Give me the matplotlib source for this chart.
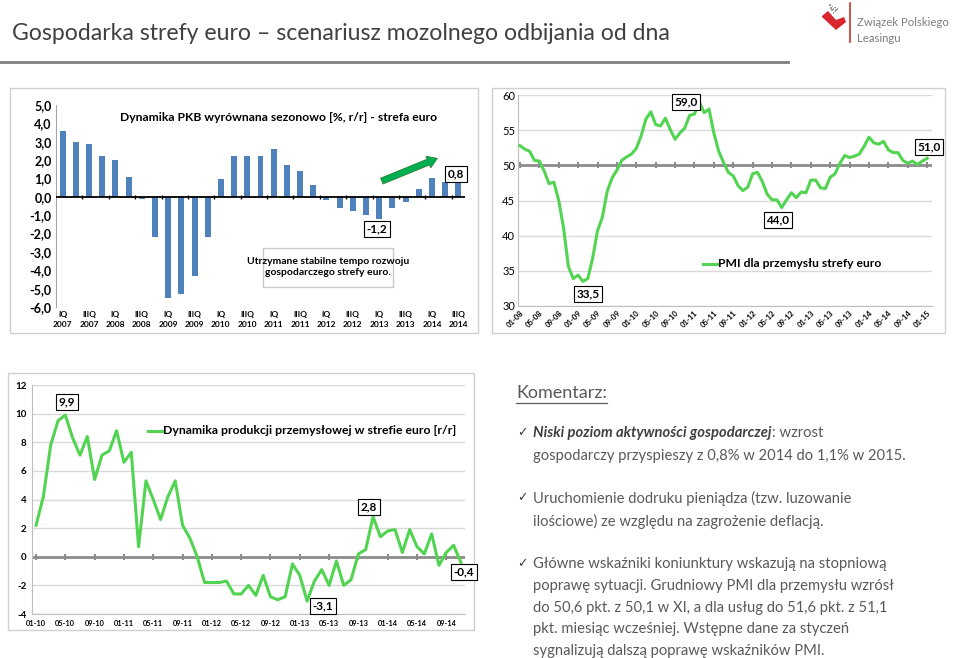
import matplotlib
matplotlib.use("Agg")
import matplotlib.pyplot as plt
import matplotlib.patches as mpatches
from matplotlib.lines import Line2D
import numpy as np

# =========================
# DATA
# =========================
gdp_labels = ["IQ\n2007", "IIIQ\n2007", "IQ\n2008", "IIIQ\n2008", "IQ\n2009", "IIIQ\n2009",
              "IQ\n2010", "IIIQ\n2010", "IQ\n2011", "IIIQ\n2011", "IQ\n2012", "IIIQ\n2012",
              "IQ\n2013", "IIIQ\n2013", "IQ\n2014", "IIIQ\n2014"]
gdp_values = [3.6, 3.0, 2.9, 2.2, 2.0, 1.1, -0.1, -2.2, -5.5, -5.3, -4.3, -2.2,
              0.95, 2.2, 2.2, 2.25, 2.6, 1.75, 1.4, 0.65, -0.2, -0.6, -0.75, -1.0,
              -1.2, -0.6, -0.3, 0.4, 1.0, 0.8, 0.8]

pmi_values = [52.8, 52.3, 52.0, 50.7, 50.6, 49.2, 47.4, 47.6, 45.0, 41.1, 35.6, 33.9,
              34.4, 33.5, 33.9, 36.8, 40.7, 42.6, 46.3, 48.2, 49.3, 50.7, 51.2, 51.6,
              52.4, 54.2, 56.6, 57.6, 55.8, 55.6, 56.7, 55.1, 53.7, 54.6, 55.3, 57.1,
              57.3, 59.0, 57.5, 58.0, 54.6, 52.0, 50.4, 49.0, 48.5, 47.1, 46.4, 46.9,
              48.8, 49.0, 47.7, 45.9, 45.1, 45.1, 44.0, 45.1, 46.1, 45.4, 46.2, 46.1,
              47.9, 47.9, 46.8, 46.7, 48.3, 48.8, 50.3, 51.4, 51.1, 51.3, 51.6, 52.7,
              54.0, 53.2, 53.0, 53.4, 52.2, 51.8, 51.8, 50.7, 50.3, 50.6, 50.1, 50.6,
              51.0]
pmi_ticks = ["01-08", "05-08", "09-08", "01-09", "05-09", "09-09", "01-10", "05-10",
             "09-10", "01-11", "05-11", "09-11", "01-12", "05-12", "09-12", "01-13",
             "05-13", "09-13", "01-14", "05-14", "09-14", "01-15"]

prod_values = [2.2, 4.2, 7.8, 9.5, 9.9, 8.3, 7.1, 8.4, 5.4, 7.1, 7.4, 8.8,
               6.6, 7.3, 0.7, 5.3, 4.0, 2.6, 4.2, 5.3, 2.2, 1.3, 0.0, -1.8,
               -1.8, -1.8, -1.7, -2.6, -2.6, -2.0, -2.7, -1.3, -2.8, -3.0, -2.8, -0.5,
               -1.3, -3.1, -1.7, -0.9, -2.0, -0.3, -2.0, -1.6, 0.2, 0.5, 2.8, 1.4,
               1.8, 1.9, 0.3, 1.9, 0.7, 0.2, 1.6, -0.6, 0.3, 0.8, -0.4]
prod_ticks = ["01-10", "05-10", "09-10", "01-11", "05-11", "09-11", "01-12", "05-12",
              "09-12", "01-13", "05-13", "09-13", "01-14", "05-14", "09-14"]

W, H = 960, 658
FONT = ["Lato", "DejaVu Sans"]
plt.rcParams["font.family"] = FONT

GREEN = "#52d452"
BLUE = "#4f81bd"
GRID = "#d9d9d9"
TXT = "#595959"

fig = plt.figure(figsize=(W / 100, H / 100), dpi=100)
fig.patch.set_facecolor("white")


def fx(x):
    return x / W


def fy(y):
    return 1 - y / H


def add_ax(x0, y0, x1, y1):
    return fig.add_axes([x0 / W, 1 - y1 / H, (x1 - x0) / W, (y1 - y0) / H])


def panel(x0, y0, x1, y1):
    fig.add_artist(mpatches.Rectangle((fx(x0), fy(y1)), (x1 - x0) / W, (y1 - y0) / H,
                                      transform=fig.transFigure, fill=False,
                                      ec="#d0d0d0", lw=1.0))


def boxed(x, y, s, size=8.5):
    fig.text(fx(x), fy(y), s, ha="center", va="center", fontsize=size, fontweight="bold",
             bbox=dict(boxstyle="square,pad=0.2", fc="white", ec="black", lw=0.8))


def comma(v, d=1):
    return f"{v:.{d}f}".replace(".", ",")


# =========================
# HEADER
# =========================
fig.text(fx(12), fy(33), "Gospodarka strefy euro \u2013 scenariusz mozolnego odbijania od dna",
         ha="left", va="center", fontsize=16.6, color="#404040")
fig.add_artist(Line2D([0, fx(788)], [fy(62), fy(62)], transform=fig.transFigure,
                      color="#7f7f7f", lw=2))

# logo
fig.add_artist(mpatches.Polygon([(fx(822), fy(16)), (fx(828), fy(11)), (fx(836), fy(20)),
                                 (fx(844), fy(17)), (fx(846), fy(22)), (fx(836), fy(30)),
                                 (fx(822), fy(17))],
                                closed=True, transform=fig.transFigure, fc="#d9262e", ec="none"))
for i in range(4):
    for j in range(4 - i):
        fig.add_artist(mpatches.Rectangle((fx(829 + 2.5 * j + 1.2 * i), fy(6 + 2.5 * i + 1.2 * j)),
                                          1.6 / W, 1.6 / H, transform=fig.transFigure,
                                          fc="#9a9a9a", ec="none"))
fig.add_artist(Line2D([fx(850), fx(850)], [fy(3), fy(42)], transform=fig.transFigure,
                      color="#c0392b", lw=1.2))
fig.text(fx(857), fy(22), "Związek Polskiego", ha="left", va="center", fontsize=8.2, color="#7f7f7f")
fig.text(fx(857), fy(39), "Leasingu", ha="left", va="center", fontsize=8.2, color="#7f7f7f")

# =========================
# PANEL 1: GDP BARS
# =========================
panel(10, 88, 478, 333)
ax1 = add_ax(56, 105, 465, 307)
x = np.arange(len(gdp_values))
ax1.bar(x, gdp_values, width=0.45, color=BLUE, zorder=2)
ax1.set_xlim(-0.5, len(gdp_values) - 0.5)
ax1.set_ylim(-6, 5)
ax1.set_yticks(np.arange(-6, 6, 1))
ax1.set_yticklabels([comma(v) for v in np.arange(-6, 6, 1)], fontsize=9, fontweight="bold")
ax1.set_xticks(x[::2])
ax1.set_xticklabels(gdp_labels, fontsize=6, fontweight="bold", linespacing=1.5)
ax1.tick_params(length=0, pad=3)
for s in ["top", "right", "bottom"]:
    ax1.spines[s].set_visible(False)
ax1.spines["left"].set_color("#a6a6a6")
ax1.axhline(0, color="black", lw=1.3, zorder=3)
ax1.vlines(np.arange(1.5, len(gdp_values), 2), -0.1, 0.1, color="black", lw=1, zorder=3)
ax1.text(0.545, 0.94, "Dynamika PKB wyrównana sezonowo [%, r/r] - strefa euro",
         transform=ax1.transAxes, ha="center", va="center", fontsize=8.7, fontweight="bold")
ax1.annotate("", xy=(28.6, 2.15), xytext=(24.0, 0.8),
             arrowprops=dict(arrowstyle="simple,head_length=0.7,head_width=0.9,tail_width=0.45",
                             fc="#00b050", ec="#2e7d32", lw=0.6), zorder=4)
fig.text(fx(328), fy(267), "Utrzymane stabilne tempo rozwoju\ngospodarczego strefy euro.",
         ha="center", va="center", fontsize=7.5, fontweight="bold", linespacing=1.4)
fig.add_artist(mpatches.Rectangle((fx(263), fy(287)), 130 / W, 39 / H,
                                  transform=fig.transFigure, fill=False, ec="#c8c8c8", lw=1))
boxed(377, 229, "-1,2")
boxed(456, 174, "0,8")

# =========================
# PANEL 2: PMI
# =========================
panel(492, 88, 945, 333)
ax2 = add_ax(518, 95, 932, 306)
xp = np.arange(len(pmi_values))
ax2.plot(xp, pmi_values, color=GREEN, lw=2.2, zorder=3)
ax2.set_xlim(-0.4, len(pmi_values))
ax2.set_ylim(30, 60)
ax2.set_yticks(np.arange(30, 61, 5))
ax2.set_yticklabels([str(v) for v in range(30, 61, 5)], fontsize=8)
ax2.grid(axis="y", color=GRID, lw=1)
ax2.set_axisbelow(True)
ax2.set_xticks(xp[::4])
ax2.set_xticklabels(pmi_ticks, fontsize=5.5, fontweight="bold", rotation=45,
                    ha="right", va="top", rotation_mode="anchor")
ax2.tick_params(length=0, pad=2)
for s in ["top", "right"]:
    ax2.spines[s].set_visible(False)
ax2.spines["left"].set_color("#bfbfbf")
ax2.spines["bottom"].set_color("#bfbfbf")
ax2.axhline(50, color="#8c8c8c", lw=2, zorder=2)
ax2.plot(xp[::4], [50] * len(xp[::4]), "|", color="#8c8c8c", ms=5, mew=1.5, zorder=2)
ax2.plot([0.447, 0.482], [0.2, 0.2], color=GREEN, lw=2.2, transform=ax2.transAxes)
ax2.text(0.484, 0.2, "PMI dla przemysłu strefy euro", transform=ax2.transAxes,
         ha="left", va="center", fontsize=8.7, fontweight="bold")
boxed(686, 102, comma(max(pmi_values)))
boxed(588, 294, comma(min(pmi_values)))
boxed(778, 220, comma(min(pmi_values[40:])))
boxed(929, 147, comma(pmi_values[-1]))

# =========================
# PANEL 3: INDUSTRIAL PRODUCTION
# =========================
panel(8, 373, 474, 630)
ax3 = add_ax(32, 385, 465, 614)
xq = np.arange(len(prod_values))
ax3.plot(xq, prod_values, color=GREEN, lw=2.2, zorder=3)
ax3.set_xlim(-0.55, len(prod_values) - 0.45)
ax3.set_ylim(-4, 12)
ax3.set_yticks(np.arange(-4, 13, 2))
ax3.set_yticklabels([str(v) for v in range(-4, 13, 2)], fontsize=7, fontweight="bold")
ax3.grid(axis="y", color=GRID, lw=1)
ax3.set_axisbelow(True)
ax3.set_xticks(xq[::4])
ax3.set_xticklabels(prod_ticks, fontsize=5.3, fontweight="bold")
ax3.tick_params(length=0, pad=4)
for s in ["top", "right"]:
    ax3.spines[s].set_visible(False)
ax3.spines["left"].set_color("#bfbfbf")
ax3.spines["bottom"].set_color("#bfbfbf")
ax3.axhline(0, color="#8c8c8c", lw=2, zorder=2)
ax3.plot(xq[::4], [0] * len(xq[::4]), "|", color="#8c8c8c", ms=5, mew=1.5, zorder=2)
ax3.plot([0.268, 0.3], [0.8, 0.8], color=GREEN, lw=2.2, transform=ax3.transAxes)
ax3.text(0.302, 0.8, "Dynamika produkcji przemysłowej w strefie euro [r/r]",
         transform=ax3.transAxes, ha="left", va="center", fontsize=8.8, fontweight="bold")
boxed(67, 402, comma(max(prod_values)))
boxed(369, 507, comma(max(prod_values[30:])))
boxed(323, 606, comma(min(prod_values)))
boxed(464, 572, comma(prod_values[-1]))

# =========================
# COMMENTARY
# =========================
fig.canvas.draw()
rend = fig.canvas.get_renderer()

kom = fig.text(fx(516), fy(393), "Komentarz:", ha="left", va="center", fontsize=13, color=TXT)
bb = kom.get_window_extent(rend)
fig.add_artist(Line2D([bb.x0 / W, bb.x1 / W], [fy(403), fy(403)], transform=fig.transFigure,
                      color=TXT, lw=0.9))

SZ = 10.65
lines = [
    (433, True, None), (456, False, "gospodarczy przyspieszy z 0,8% w 2014 do 1,1% w 2015."),
    (498, True, "Uruchomienie dodruku pieniądza (tzw. luzowanie"),
    (521, False, "ilościowe) ze względu na zagrożenie deflacją."),
    (564, True, "Główne wskaźniki koniunktury wskazują na stopniową"),
    (586, False, "poprawę sytuacji. Grudniowy PMI dla przemysłu wzrósł"),
    (608, False, "do 50,6 pkt. z 50,1 w XI, a dla usług do 51,6 pkt. z 51,1"),
    (629, False, "pkt. miesiąc wcześniej. Wstępne dane za styczeń"),
    (651, False, "sygnalizują dalszą poprawę wskaźników PMI."),
]
for y, bullet, s in lines:
    if bullet:
        fig.text(fx(517), fy(y), "\u2713", ha="left", va="center", fontsize=9,
                 color="#404040", family="DejaVu Sans")
    if s is None:
        t = fig.text(fx(533), fy(y), "Niski poziom aktywności gospodarczej", ha="left",
                     va="center", fontsize=SZ, fontweight="bold", style="italic", color="#404040")
        b = t.get_window_extent(rend)
        fig.text(b.x1 / W, fy(y), ": wzrost", ha="left", va="center", fontsize=SZ, color=TXT)
    else:
        fig.text(fx(533), fy(y), s, ha="left", va="center", fontsize=SZ, color=TXT)

fig.savefig("out.png", dpi=100)
